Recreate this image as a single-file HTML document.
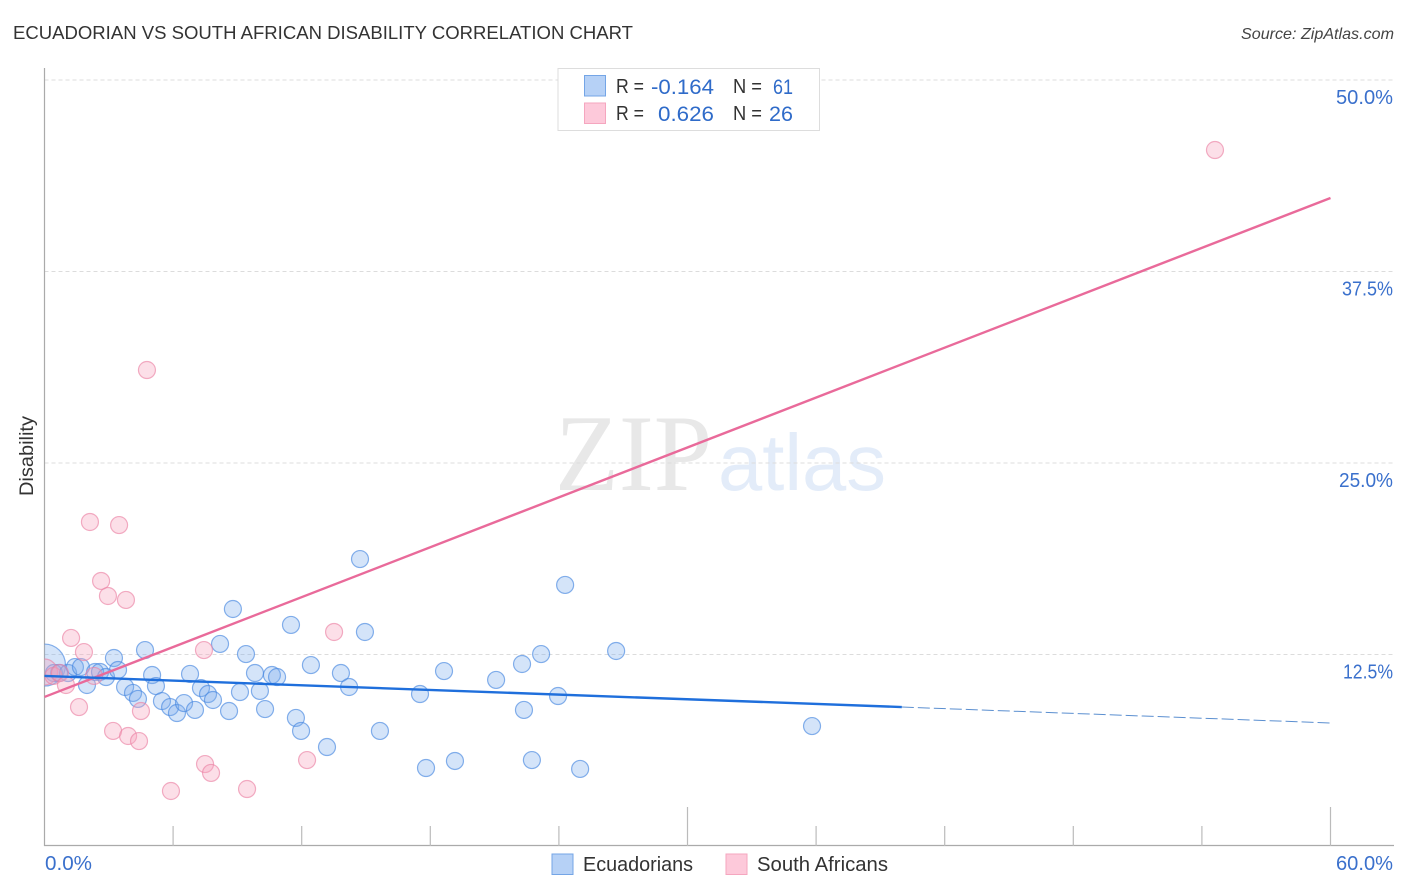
<!DOCTYPE html>
<html lang="en">
<head>
<meta charset="utf-8">
<title>Ecuadorian vs South African Disability Correlation Chart</title>
<style>
html,body{margin:0;padding:0;background:#fff;width:1406px;height:892px;overflow:hidden}
svg{display:block;font-family:"Liberation Sans",sans-serif}
</style>
</head>
<body>
<svg id="chart" xmlns="http://www.w3.org/2000/svg" width="1406" height="892" viewBox="0 0 1406 892">
  <defs>
    <clipPath id="plot-clip"><rect x="44.5" y="60" width="1350" height="786"/></clipPath>
  </defs>
  <text x="13" y="39" font-size="18.5" fill="#333" textLength="620" lengthAdjust="spacingAndGlyphs">ECUADORIAN VS SOUTH AFRICAN DISABILITY CORRELATION CHART</text>
  <text x="1241" y="39" font-size="16" font-style="italic" fill="#444" textLength="153" lengthAdjust="spacingAndGlyphs">Source: ZipAtlas.com</text>
  <text transform="translate(33,456) rotate(-90)" font-size="19" fill="#333" text-anchor="middle" textLength="80" lengthAdjust="spacingAndGlyphs">Disability</text>

  <g>
    <text x="555" y="490" font-family="'Liberation Serif',serif" font-size="109" fill="#e8e8e8" textLength="157" lengthAdjust="spacingAndGlyphs">ZIP</text>
    <text x="718" y="490" font-size="80" fill="#e3ecf9" textLength="168" lengthAdjust="spacingAndGlyphs">atlas</text>
  </g>

  <g id="grid"></g>
  <g id="axes"></g>
  <g id="points" clip-path="url(#plot-clip)"></g>
  <g id="trends"></g>
  <g id="tick-labels"></g>

  <g>
    <rect x="558" y="68.500" width="261.500" height="62" fill="#fff" stroke="#ddd" stroke-width="1"/>
    <rect x="584.500" y="75.500" width="21" height="20.500" fill="#b6d1f6" stroke="#74a5e6" stroke-width="1"/>
    <rect x="584.500" y="103" width="21" height="20.500" fill="#fdc9da" stroke="#f5a6bf" stroke-width="1"/>
    <g font-size="20" fill="#333">
      <text x="616" y="93" textLength="28" lengthAdjust="spacingAndGlyphs">R =</text>
      <text x="733" y="93" textLength="29" lengthAdjust="spacingAndGlyphs">N =</text>
      <text x="616" y="120" textLength="28" lengthAdjust="spacingAndGlyphs">R =</text>
      <text x="733" y="120" textLength="29" lengthAdjust="spacingAndGlyphs">N =</text>
    </g>
    <g font-size="21" fill="#2f6bc9">
      <text x="651" y="94" textLength="63" lengthAdjust="spacingAndGlyphs">-0.164</text>
      <text x="773" y="94" textLength="20" lengthAdjust="spacingAndGlyphs">61</text>
      <text x="658" y="121" textLength="56" lengthAdjust="spacingAndGlyphs">0.626</text>
      <text x="769" y="121" textLength="24" lengthAdjust="spacingAndGlyphs">26</text>
    </g>
  </g>

  <g>
    <g>
      <rect x="552" y="854" width="21" height="20.500" fill="#b6d1f6" stroke="#74a5e6" stroke-width="1"/>
      <text x="583" y="871" font-size="20" fill="#333" textLength="110" lengthAdjust="spacingAndGlyphs">Ecuadorians</text>
    </g>
    <g>
      <rect x="726" y="854" width="21" height="20.500" fill="#fdc9da" stroke="#f5a6bf" stroke-width="1"/>
      <text x="757" y="871" font-size="20" fill="#333" textLength="131" lengthAdjust="spacingAndGlyphs">South Africans</text>
    </g>
  </g>
</svg>
<script>
const blueX = [0,0.44,0.68,1.10,1.42,1.70,1.98,2.36,2.59,2.87,3.24,3.43,3.76,4.13,4.36,4.69,5.02,5.20,5.48,5.86,6.18,6.51,6.79,7.02,7.30,7.63,7.86,8.19,8.61,8.79,9.12,9.40,9.82,10.05,10.29,10.61,10.85,11.50,11.73,11.97,12.43,13.18,13.83,14.21,14.72,14.95,15.65,17.52,17.80,18.64,19.15,21.07,22.28,22.37,22.74,23.17,23.96,24.29,24.99,26.67,35.81];
const blueY = [11.81,11.29,11.29,11.29,11.68,11.68,10.51,11.36,11.36,11.03,12.27,11.49,10.38,9.99,9.60,12.79,11.16,10.44,9.46,9.07,8.68,9.33,11.23,8.88,10.31,9.92,9.53,13.19,8.81,15.47,10.05,12.53,11.29,10.12,8.94,11.16,11.03,14.43,8.36,7.51,11.81,6.46,11.29,10.38,18.73,13.97,7.51,9.92,5.09,11.42,5.55,10.84,11.88,8.88,5.61,12.53,9.79,17.04,5.03,12.73,7.83];
const pinkX = [0,0.42,0.72,1.00,1.24,1.84,1.61,2.31,2.12,3.48,2.64,2.96,3.80,3.20,3.90,4.41,4.50,4.78,5.90,7.44,7.49,7.77,9.45,12.25,13.51,54.61];
const pinkY = [11.36,11.10,11.29,10.51,13.58,12.66,9.07,11.10,21.15,20.95,17.30,16.32,16.06,7.51,7.18,6.85,8.81,31.07,3.59,12.79,5.35,4.77,3.72,5.61,13.97,45.43];
const pinkTrendX = [0,60];
const pinkTrendY = [9.73,42.30];
const blueSolidX = [0,40];
const blueSolidY = [11.10,9.07];
const blueDashX = [40,60];
const blueDashY = [9.07,8.03];
const yTicks = [12.5,25,37.5,50];
const yTickLabels = ["12.5%","25.0%","37.5%","50.0%"];
const xTicks = [0,6,12,18,24,30,36,42,48,54,60];
const xMajorTicks = [30,60];
const xEndTicks = [0,60];
const xEndLabels = ["0.0%","60.0%"];

const NS = 'http://www.w3.org/2000/svg';
const sx = v => 44.5 + v * (1330.5 - 44.5) / 60;
const sy = v => 846 - v * (846 - 80) / 50;
const labelFit = {'12.5%': 50, '25.0%': 54, '37.5%': 51, '50.0%': 57, '0.0%': 47, '60.0%': 57};

function make(tag, attrs, parent) {
  const el = document.createElementNS(NS, tag);
  for (const k in attrs) el.setAttribute(k, attrs[k]);
  parent.appendChild(el);
  return el;
}

function fit(el, label) {
  if (labelFit[label]) {
    el.setAttribute('textLength', labelFit[label]);
    el.setAttribute('lengthAdjust', 'spacingAndGlyphs');
  }
}

const grid = document.getElementById('grid');
yTicks.forEach(function (t) {
  const el = make('line', {x1: 44.5, x2: 1394, y1: sy(t), y2: sy(t), stroke: '#dcdcdc', 'stroke-width': 1, 'stroke-dasharray': '4 3'}, grid);
  
  
});

const axes = document.getElementById('axes');
const yAxis = make('line', {x1: 44.5, x2: 44.5, y1: 68, y2: 846, stroke: '#aaa', 'stroke-width': 1.2}, axes);


const xAxis = make('line', {x1: 44, x2: 1394, y1: 845.5, y2: 845.5, stroke: '#aaa', 'stroke-width': 1.2}, axes);


xTicks.forEach(function (t) {
  if (t === 0) return;
  const top = xMajorTicks.indexOf(t) >= 0 ? 807 : 826;
  const el = make('line', {x1: sx(t), x2: sx(t), y1: top, y2: 846, stroke: '#bbb', 'stroke-width': 1.2}, axes);
  
  
});

const points = document.getElementById('points');
blueX.forEach(function (x, i) {
  const el = make('circle', {cx: sx(x), cy: sy(blueY[i]), r: i === 0 ? 21 : 8.5, fill: 'rgba(120,170,235,0.32)', stroke: 'rgba(70,135,225,0.65)', 'stroke-width': 1.2}, points);
  
  
});
pinkX.forEach(function (x, i) {
  const el = make('circle', {cx: sx(x), cy: sy(pinkY[i]), r: i === 0 ? 13 : 8.5, fill: 'rgba(248,165,190,0.36)', stroke: 'rgba(235,130,165,0.65)', 'stroke-width': 1.2}, points);
  
  
});

const trends = document.getElementById('trends');
const pinkLine = make('line', {x1: sx(pinkTrendX[0]), y1: sy(pinkTrendY[0]), x2: sx(pinkTrendX[1]), y2: sy(pinkTrendY[1]), stroke: '#e96a9a', 'stroke-width': 2.4}, trends);


const blueLine = make('line', {x1: sx(blueSolidX[0]), y1: sy(blueSolidY[0]), x2: sx(blueSolidX[1]), y2: sy(blueSolidY[1]), stroke: '#1f6fdc', 'stroke-width': 2.4}, trends);


const blueDash = make('line', {x1: sx(blueDashX[0]), y1: sy(blueDashY[0]), x2: sx(blueDashX[1]), y2: sy(blueDashY[1]), stroke: '#5b8fd0', 'stroke-width': 1, 'stroke-dasharray': '12 4'}, trends);



const labels = document.getElementById('tick-labels');
yTicks.forEach(function (t, i) {
  const el = make('text', {x: 1393, y: sy(t) + 24, 'font-size': 20, fill: '#3a70cc', 'text-anchor': 'end'}, labels);
  
  
  el.textContent = yTickLabels[i];
  fit(el, yTickLabels[i]);
});
xEndTicks.forEach(function (t, i) {
  const el = make('text', {x: i === 0 ? 45 : 1393, y: 870, 'font-size': 20, fill: '#3a70cc', 'text-anchor': i === 0 ? 'start' : 'end'}, labels);
  
  
  el.textContent = xEndLabels[i];
  fit(el, xEndLabels[i]);
});
</script>
</body>
</html>
